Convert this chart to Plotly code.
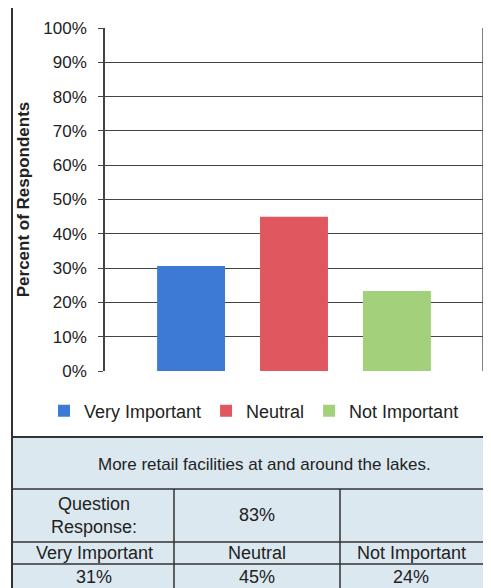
import plotly.graph_objects as go

categories = ["Very Important", "Neutral", "Not Important"]
values = [30.6, 45.0, 23.3]
colors = ["#3d7ad6", "#e0575f", "#a3d07a"]
y_ticks = [0, 10, 20, 30, 40, 50, 60, 70, 80, 90, 100]
y_tick_labels = [f"{v}%" for v in y_ticks]

table_title = "More retail facilities at and around the lakes."
row2 = ["Question<br>Response:", "83%", ""]
row3 = ["Very Important", "Neutral", "Not Important"]
row4 = ["31%", "45%", "24%"]

# page has an 8px body margin; work in reference pixels and shift
OFF = 8
W, H = 491 - OFF, 588 - OFF
L, R, T, B = 105 - OFF, 483 - OFF, 28 - OFF, 371 - OFF

def px(x):
    return (x - OFF - L) / (R - L)

def py(y):
    return (B - (y - OFF)) / (B - T)

fig = go.Figure()
for c, v, col in zip(categories, values, colors):
    fig.add_trace(go.Bar(x=["g"], y=[v], name=c, marker=dict(color=col, line=dict(width=0))))

FONT = "Arial, Liberation Sans, sans-serif"
TXT = "#222"
shapes = []
shapes.append(dict(type="rect", xref="paper", yref="paper", x0=px(12), x1=px(500), y0=py(437), y1=py(7),
                   line=dict(color="#333", width=2), fillcolor="rgba(0,0,0,0)", layer="below"))
shapes.append(dict(type="rect", xref="paper", yref="paper", x0=px(12), x1=px(500), y0=py(600), y1=py(437),
                   line=dict(color="#333", width=2), fillcolor="#dbe8f0", layer="below"))
for yy in [489, 542, 564]:
    shapes.append(dict(type="line", xref="paper", yref="paper", x0=px(12), x1=px(500), y0=py(yy), y1=py(yy),
                       line=dict(color="#333", width=1.5)))
for xx in [174, 340]:
    shapes.append(dict(type="line", xref="paper", yref="paper", x0=px(xx), x1=px(xx), y0=py(600), y1=py(489),
                       line=dict(color="#333", width=1.5)))
shapes.append(dict(type="line", xref="paper", yref="paper", x0=1, x1=1, y0=0, y1=1,
                   line=dict(color="#555", width=1.5)))

annotations = []
annotations.append(dict(text=table_title, xref="paper", yref="paper", x=px(264), y=py(464), showarrow=False,
                        font=dict(size=17, color=TXT, family=FONT), xanchor="center", yanchor="middle"))
col_centers = [94, 257, 411]
for i, xc in enumerate(col_centers):
    annotations.append(dict(text=row2[i], xref="paper", yref="paper", x=px(xc), y=py(515), showarrow=False,
                            font=dict(size=18, color=TXT, family=FONT), xanchor="center", yanchor="middle"))
    annotations.append(dict(text=row3[i], xref="paper", yref="paper", x=px(xc), y=py(553), showarrow=False,
                            font=dict(size=18, color=TXT, family=FONT), xanchor="center", yanchor="middle"))
    annotations.append(dict(text=row4[i], xref="paper", yref="paper", x=px(xc), y=py(577), showarrow=False,
                            font=dict(size=18, color=TXT, family=FONT), xanchor="center", yanchor="middle"))

fig.update_layout(
    width=W, height=H,
    margin=dict(l=L, r=W - R, t=T, b=H - B, pad=0, autoexpand=False),
    paper_bgcolor="white", plot_bgcolor="white",
    barmode="group", bargap=0.183, bargroupgap=0.34,
    font=dict(family=FONT, size=17, color=TXT),
    showlegend=True,
    legend=dict(orientation="h", xref="paper", yref="paper", x=px(44), xanchor="left",
                y=py(411), yanchor="middle",
                font=dict(size=18, family=FONT, color=TXT), traceorder="normal",
                bgcolor="rgba(0,0,0,0)"),
    xaxis=dict(showticklabels=False, showgrid=False, zeroline=False, showline=False, ticks=""),
    yaxis=dict(range=[0, 100], tickvals=y_ticks, ticktext=y_tick_labels, showgrid=True,
               gridcolor="#444", gridwidth=1.3, zeroline=False, showline=True, linecolor="#444",
               linewidth=1.5, ticks="outside", ticklen=5, tickcolor="#444", tickfont=dict(size=17),
               ticklabelstandoff=8,
               title=dict(text="<b>Percent of Respondents</b>", font=dict(size=17), standoff=9)),
    shapes=shapes, annotations=annotations,
)

fig.write_html("out.html")
